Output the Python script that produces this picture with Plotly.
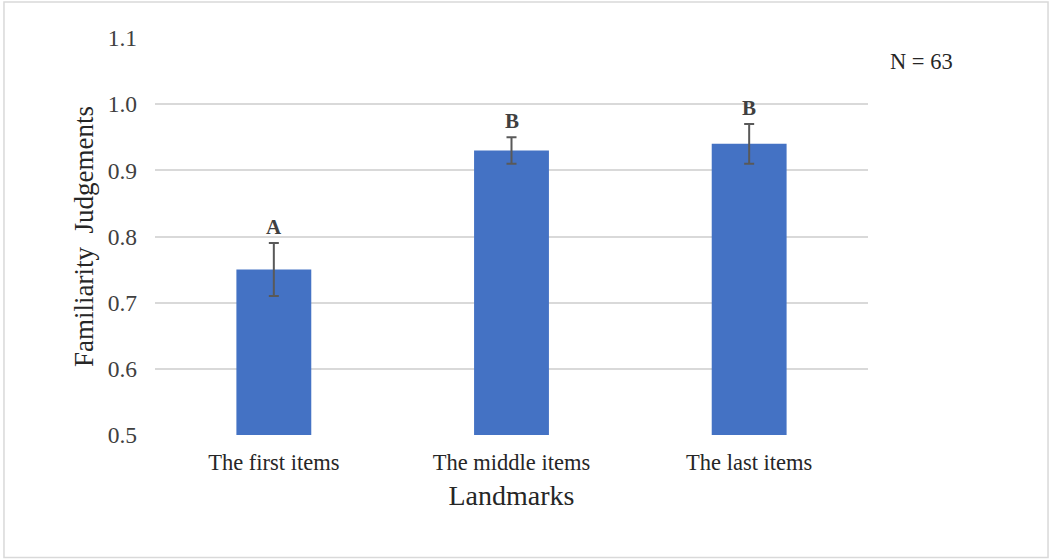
import plotly.graph_objects as go

# Mean familiarity judgements per landmark position, with error margins
categories = ["The first items", "The middle items", "The last items"]
means = [0.75, 0.93, 0.94]
errors = [0.04, 0.02, 0.03]
group_letters = ["A", "B", "B"]
y_ticks = [0.5, 0.6, 0.7, 0.8, 0.9, 1.0, 1.1]
sample_note = "N = 63"

serif = "Liberation Serif"

fig = go.Figure()
fig.add_trace(go.Bar(
    x=categories,
    y=means,
    marker=dict(color="#4472C4", line=dict(width=0)),
    error_y=dict(type="data", array=errors, visible=True,
                 color="#595959", thickness=2, width=5),
    showlegend=False,
))

# Significance group letters above each error bar
for cat, m, e, letter in zip(categories, means, errors, group_letters):
    fig.add_annotation(x=cat, y=m + e, text=f"<b>{letter}</b>",
                       showarrow=False, yanchor="bottom", yshift=2,
                       font=dict(family=serif, size=21, color="#404040"))

fig.add_annotation(xref="paper", yref="paper", x=1.028, y=0.94,
                   text=sample_note, showarrow=False,
                   xanchor="left", yanchor="middle",
                   font=dict(family=serif, size=22.5, color="#262626"))

# Outer chart border
fig.add_shape(type="rect", xref="paper", yref="paper",
              x0=-0.2118, x1=1.2525, y0=-0.3085, y1=1.0907,
              line=dict(color="#D9D9D9", width=1.5), fillcolor="rgba(0,0,0,0)",
              layer="below")

fig.update_layout(
    width=1052, height=560,
    margin=dict(l=155, r=184, t=38, b=125),
    paper_bgcolor="white", plot_bgcolor="white",
    bargap=0.685,
    font=dict(family=serif, color="#404040"),
    xaxis=dict(
        showgrid=False, showline=False, zeroline=False,
        tickfont=dict(family=serif, size=22.5, color="#262626"),
        ticks="", ticklabelstandoff=11,
        title=dict(text="Landmarks", standoff=11,
                   font=dict(family=serif, size=28, color="#262626")),
    ),
    yaxis=dict(
        range=[0.5, 1.1], tickvals=y_ticks,
        ticktext=[f"{v:.1f}" for v in y_ticks],
        showgrid=True, gridcolor="#D9D9D9", gridwidth=1.5,
        zeroline=False, showline=False,
        tickfont=dict(family=serif, size=23.5, color="#404040"),
        ticks="", ticklabelstandoff=17,
        title=dict(text="Familiarity  Judgements", standoff=6,
                   font=dict(family=serif, size=27, color="#262626")),
    ),
)

fig.write_html("out.html")
